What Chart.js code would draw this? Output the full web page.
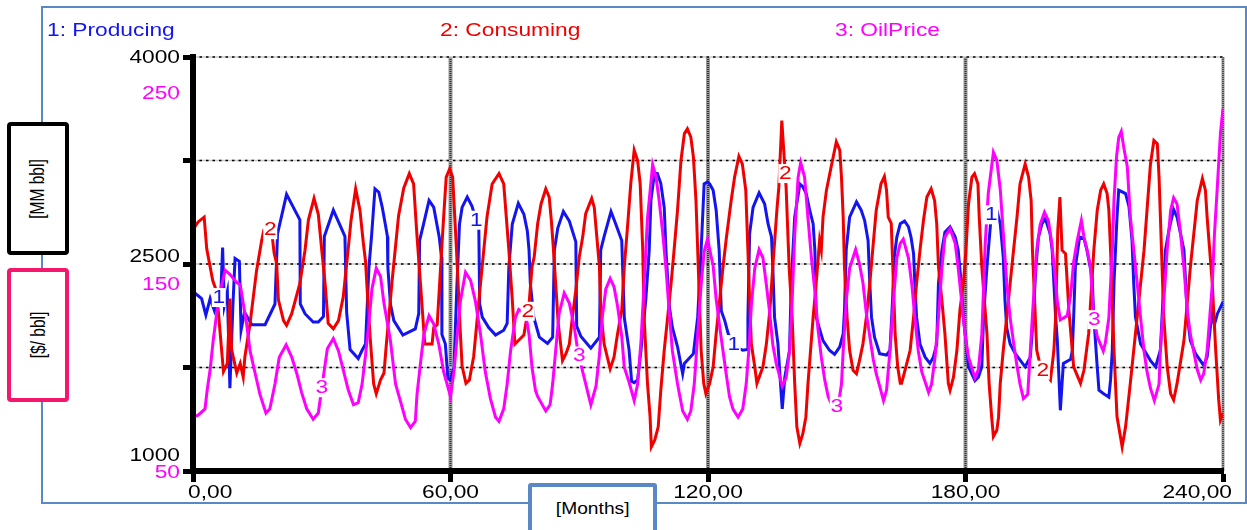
<!DOCTYPE html>
<html>
<head>
<meta charset="utf-8">
<title>Producing / Consuming / OilPrice</title>
<script src="https://cdn.jsdelivr.net/npm/chart.js@4.4.1/dist/chart.umd.min.js"></script>
<style>
  html, body { margin: 0; padding: 0; background: #fff; }
  body { position: relative; width: 1247px; height: 530px; overflow: hidden; }
  .frame { position: absolute; left: 41px; top: 6px; width: 1206px; height: 498px; border: 2px solid #5a88c6; box-sizing: border-box; }
  #myChart { position: absolute; left: 0; top: 0; }
  .unit { position: absolute; box-sizing: border-box; background: #fff; border-radius: 4px;
          display: flex; align-items: center; justify-content: center;
          font: 15.5px "Liberation Sans", Arial, sans-serif; color: #000; }
  .unit span { display: block; white-space: nowrap; transform: scaleX(1.35) rotate(-90deg); }
  #mmBox { left: 7px; top: 122px; width: 62px; height: 133px; border: 4.5px solid #000; }
  #priceBox { left: 7px; top: 268px; width: 62px; height: 134px; border: 4.5px solid #f5176b; }
  #monthsBox { left: 528px; top: 483px; width: 129px; height: 70px; border: 4px solid #5a88c6; border-radius: 3px;
               display: block; text-align: center; padding-top: 12px; line-height: 20px; font-size: 16px; }
  #monthsBox span { display: inline-block; transform: scaleX(1.2); }
</style>
</head>
<body>
<div class="frame"></div>
<canvas id="myChart" width="1247" height="530"></canvas>
<div class="unit" id="mmBox"><span>[MM bbl]</span></div>
<div class="unit" id="priceBox"><span>[$/ bbl]</span></div>
<div class="unit" id="monthsBox"><span>[Months]</span></div>

<script>
// ---- data ----
const producingMonths = [
  0, 1.2, 2, 3, 4, 5, 6.5, 6.9, 7.3, 8,
  8.6, 9.3, 9.8, 10.8, 11.2, 12, 13.7, 16.8, 19.1, 19.7,
  21.8, 24.9, 25, 26.1, 28, 29.2, 30.4, 30.6, 32.7, 35.4,
  35.8, 36.6, 38.5, 39.4, 40.2, 41, 41.6, 42.4, 43.3, 44.1,
  44.8, 45.3, 45.4, 46, 46.8, 48.9, 51.8, 52.6, 52.8, 53.8,
  55, 56.1, 57.4, 57.9, 58, 58.8, 59.4, 60, 60.8, 61.5,
  62.1, 62.7, 63.9, 65, 66.6, 66.8, 67.4, 68.9, 70.5, 72.4,
  73.2, 73.6, 74.4, 75.8, 77.1, 77.9, 78.3, 78.6, 79.4, 80.7,
  82.6, 83.8, 84.2, 85, 86.3, 87.7, 89.2, 89.4, 90.4, 92.7,
  94.7, 95, 95.8, 97.4, 98.5, 99.9, 100.5, 101.6, 102.2, 102.8,
  103.6, 104.4, 105.5, 106.3, 106.7, 107.5, 108.2, 109, 109.8, 110.2,
  111, 111.7, 112.9, 114.1, 114.5, 116.6, 117.6, 118.4, 119.1, 119.9,
  120.4, 121.2, 121.9, 122.6, 123.1, 123.9, 124.7, 126.2, 128.1, 129.1,
  129.3, 129.7, 130.5, 131.9, 133.2, 134, 134.8, 135.1, 135.5, 136.3,
  136.9, 137.3, 137.9, 139, 139.4, 140.2, 141.4, 142.1, 142.9, 143.7,
  144.5, 144.9, 145.2, 146.8, 148.3, 149.5, 150.7, 151.5, 151.8, 152.2,
  153, 154.6, 155.7, 156.5, 157.3, 157.7, 158.1, 158.8, 160, 161.6,
  162.4, 163, 163.4, 164, 164.8, 165.8, 166.7, 167.3, 167.9, 168.2,
  168.6, 169.4, 170.6, 171.7, 172.5, 173.3, 173.7, 174.5, 175.2, 176.4,
  177.6, 178.3, 179, 179.5, 180.1, 180.7, 182.2, 183, 183.8, 184.2,
  185, 186.1, 187.3, 188.1, 188.8, 189.2, 189.6, 190.4, 191.6, 193.9,
  195.1, 195.8, 196.4, 197, 197.8, 198.6, 199.7, 200.2, 200.6, 201,
  201.4, 202.1, 202.8, 204.5, 204.9, 205.2, 205.6, 206.6, 207.6, 208.3,
  209.5, 209.9, 210.7, 211.1, 212.2, 213.4, 213.8, 214.2, 214.6, 215.3,
  215.7, 217.3, 218.1, 218.8, 219.2, 219.6, 220.8, 223.1, 224.3, 225.4,
  225.8, 226.6, 227.4, 228.5, 229.3, 230.9, 231.3, 231.7, 232.4, 233.6,
  235.5, 236.3, 236.9, 237.5, 238, 238.7, 240
];
const producingValues = [
  2300, 2270, 2250, 2130, 2250, 2160, 2300, 2620, 2200, 2300,
  1600, 2200, 2540, 2520, 2020, 2150, 2060, 2060, 2210, 2720,
  3005, 2820, 2210, 2140, 2080, 2080, 2120, 2700, 2890, 2700,
  2150, 1880, 1815, 1875, 1920, 2480, 2700, 3045, 3020, 2910,
  2790, 2700, 2480, 2210, 2090, 1985, 2030, 2140, 2670, 2800,
  2960, 2910, 2690, 2550, 1990, 1920, 1670, 1660, 1750, 2350,
  2790, 2910, 2985, 2920, 2750, 2210, 2115, 2040, 1985, 2020,
  2070, 2480, 2790, 2940, 2860, 2740, 2600, 2360, 2115, 1970,
  1925, 1970, 2600, 2760, 2880, 2810, 2660, 2050, 1975, 1890,
  1970, 2600, 2700, 2880, 2790, 2670, 2110, 1880, 1650, 1640,
  1660, 1880, 2240, 2600, 2960, 3155, 3155, 3085, 2910, 2600,
  2190, 2040, 1900, 1705, 1780, 1850, 2115, 2600, 3080, 3095,
  3080, 3035, 2890, 2600, 2160, 2090, 1995, 1900, 1875, 1880,
  2115, 2720, 2910, 3015, 2935, 2790, 2695, 2480, 2115, 1920,
  1630, 1450, 1680, 1875, 2360, 2840, 3080, 3060, 3010, 2890,
  2790, 2600, 2115, 1945, 1875, 1845, 1900, 1995, 2160, 2600,
  2840, 2950, 2890, 2815, 2670, 2360, 2115, 1970, 1850, 1840,
  1875, 2235, 2550, 2695, 2792, 2812, 2770, 2695, 2575, 2360,
  2115, 1920, 1825, 1780, 1825, 1920, 2360, 2600, 2730, 2770,
  2695, 2600, 2360, 2115, 1945, 1755, 1655, 1680, 1755, 2115,
  2480, 2890, 2890, 2790, 2550, 2235, 2040, 1920, 1850, 1755,
  1825, 2115, 2480, 2695, 2790, 2830, 2720, 2600, 2360, 2115,
  1945, 1440, 1780, 1810, 1875, 2115, 2480, 2695, 2685, 2600,
  2405, 2115, 1750, 1585, 1560, 1535, 1660, 1875, 2360, 2840,
  3035, 3010, 2915, 2670, 2360, 2115, 1920, 1800, 1755, 1875,
  2115, 2600, 2745, 2895, 2840, 2600, 2360, 2115, 1945, 1850,
  1765, 1825, 1995, 2160, 2060, 2140, 2225
];

const consumingMonths = [
  0, 1.2, 2.6, 3.2, 4.6, 5.5, 7.1, 8, 8.6, 9,
  10.2, 11, 11.7, 12.1, 13.3, 14.8, 16, 16.5, 18.3, 18.9,
  19.5, 19.9, 21.1, 21.8, 23, 24.9, 26.1, 26.9, 28.2, 29.2,
  30, 30.8, 31.5, 32.7, 33.9, 35, 36.2, 36.8, 37.9, 38.9,
  39.7, 40.2, 40.8, 41.3, 42.1, 42.7, 43.7, 44.5, 45, 46.4,
  47.9, 49.1, 50.4, 51.4, 52.2, 53, 54, 55.7, 56.1, 56.9,
  57.7, 58.4, 59, 59.8, 60.5, 61.4, 62.3, 62.7, 63.6, 64.4,
  65.4, 67, 68.5, 69.7, 71.3, 72.4, 73.6, 74.4, 75, 76.3,
  77.1, 78.3, 79, 79.5, 80.3, 81.1, 82.2, 83, 83.5, 84,
  84.6, 85.1, 86.1, 86.9, 87.7, 88.4, 89.2, 90, 90.8, 91.5,
  92.9, 93.5, 94.1, 94.7, 95, 95.8, 97.2, 98.1, 98.9, 99.9,
  100.5, 101.3, 102, 102.8, 103.6, 104.2, 104.8, 105.1, 105.9, 106.5,
  106.8, 107.6, 108.4, 109, 109.8, 110.6, 111.4, 112.1, 112.9, 113.7,
  114.5, 115.2, 116, 116.6, 117.2, 117.6, 118, 118.4, 119, 119.5,
  120.4, 121.2, 121.9, 122.7, 123.5, 124.3, 125.4, 126.2, 127.2, 128,
  128.8, 129.3, 129.7, 130.1, 130.9, 131.4, 132.8, 133.6, 134.4, 135.1,
  136.1, 136.5, 137.2, 137.6, 138.2, 138.9, 139.6, 140.2, 140.7, 141.4,
  142.1, 142.8, 143.3, 144.5, 145.2, 146, 146.4, 146.8, 147.6, 148.7,
  149.9, 150.7, 151.1, 151.5, 151.8, 152.4, 153, 153.8, 154.6, 155.3,
  156.1, 156.9, 157.7, 158.5, 159.2, 160.3, 161.1, 161.6, 162, 162.7,
  163.2, 163.6, 164.2, 164.8, 165.1, 165.9, 167.1, 167.9, 168.6, 169.4,
  170.2, 171, 172, 172.8, 173.3, 173.7, 174.5, 175.2, 176, 176.4,
  177.2, 178, 178.7, 179.5, 180.1, 180.7, 181.5, 182.1, 182.9, 183.2,
  183.8, 184.4, 185, 185.5, 186.1, 186.5, 187.3, 187.7, 188.1, 188.8,
  189.6, 190.4, 191.2, 192, 192.7, 193.9, 194.7, 195.3, 195.6, 196.1,
  196.6, 197.6, 198.8, 199.8, 200.6, 201, 201.5, 202, 202.5, 203.3,
  204.1, 205.2, 206.8, 207.6, 208.7, 209.9, 210.7, 211.5, 212.2, 213,
  213.4, 213.8, 214.6, 215.3, 216.5, 217.3, 218.4, 220, 221.6, 223.1,
  223.9, 224.7, 225.1, 225.8, 226.2, 227, 227.8, 228.5, 229.3, 230.9,
  232.4, 234, 235.2, 235.9, 236.3, 237.5, 238.3, 239, 239.4, 240
];
const consumingValues = [
  2750, 2805, 2840, 2610, 2380, 2300, 1720, 1780, 2250, 1880,
  1710, 1780, 1680, 1830, 2070, 2450, 2670, 2745, 2745, 2580,
  2500, 2240, 2090, 2055, 2140, 2360, 2600, 2820, 2975, 2860,
  2600, 2350, 2070, 2030, 2090, 2260, 2620, 2810, 3045, 2890,
  2650, 2520, 2200, 1960, 1630, 1560, 1660, 1710, 1900, 2380,
  2850, 3050, 3155, 3080, 2700, 2360, 1920, 1920, 2040, 2060,
  2480, 2840, 3130, 3190, 3130, 2600, 2000, 1760, 1635, 1660,
  1830, 2360, 2840, 3080, 3155, 3080, 2600, 2240, 1920, 1960,
  1985, 2210, 2480, 2550, 2790, 2935, 3045, 2985, 2815, 2600,
  2310, 2070, 1800, 1850, 1920, 2115, 2310, 2550, 2695, 2865,
  2975, 2910, 2695, 2480, 2165, 1920, 1740, 1825, 1990, 2165,
  2480, 2790, 3080, 3325, 3250, 3080, 2600, 2120, 1635, 1395,
  1175, 1225, 1320, 1585, 1875, 2115, 2360, 2600, 2890, 3250,
  3445, 3480, 3420, 3275, 2960, 2600, 2235, 1875, 1635, 1560,
  1635, 1755, 1995, 2235, 2480, 2695, 2960, 3130, 3280, 3225,
  3035, 2600, 2235, 1920, 1755, 1635, 1755, 1920, 2160, 2480,
  2910, 3055, 3540, 3345, 3055, 2480, 2115, 1635, 1320, 1200,
  1270, 1390, 1635, 2115, 2360, 2670, 2600, 2840, 3035, 3205,
  3385, 3325, 3130, 2840, 2480, 2115, 1875, 1730, 1705, 1800,
  1920, 2115, 2360, 2645, 2890, 3080, 3135, 3035, 2840, 2795,
  2360, 1995, 1755, 1635, 1635, 1730, 1875, 2115, 2360, 2600,
  2815, 2985, 3045, 2960, 2790, 2480, 2235, 1995, 1635, 1585,
  1680, 1875, 2165, 2360, 2600, 2935, 3130, 3155, 3080, 2840,
  2480, 2235, 1995, 1635, 1390, 1250, 1295, 1390, 1635, 1875,
  2115, 2360, 2600, 2840, 3080, 3225, 3130, 2960, 2600, 2235,
  1875, 1740, 1700, 1660, 1875, 2115, 2740, 2985, 2600, 2575,
  2160, 1755, 1635, 1730, 1995, 2600, 2890, 3035, 3080, 3010,
  2890, 2600, 1875, 1395, 1175, 1320, 1635, 2115, 2600, 3225,
  3395, 3370, 3130, 2480, 2115, 1755, 1560, 1515, 1635, 1945,
  2480, 2960, 3120, 3035, 2840, 2360, 1875, 1515, 1370, 1420
];

const priceMonths = [
  0, 1.2, 2.8, 3.3, 4, 4.7, 5.7, 6.7, 7.5, 8.6,
  10.2, 11, 11.7, 12.5, 13.3, 14.5, 15.6, 17, 17.9, 19.1,
  20.1, 21.7, 23, 24.2, 25.3, 26.5, 28, 29.2, 30, 31.3,
  32.7, 33.9, 35, 36.2, 37.4, 38.5, 39.4, 40.2, 41, 41.7,
  42.7, 43.7, 44.5, 46, 47.2, 48.3, 49.5, 50.7, 51.8, 52.2,
  53, 53.8, 55, 56.1, 57.3, 58.4, 60, 60.8, 61.5, 62.3,
  63.5, 64.7, 65.8, 67, 68.1, 69.3, 70.5, 71.3, 72.4, 73.2,
  74, 75.1, 75.9, 77.5, 78.3, 79, 79.8, 80.3, 82.2, 83.2,
  83.8, 84.5, 85.3, 86.5, 87.7, 88.8, 89.6, 90.8, 92.7, 93.9,
  94.7, 95.4, 96.2, 97.2, 98.1, 98.9, 99.9, 100.5, 101.6, 102.8,
  103.6, 104.4, 105.1, 105.9, 107.1, 107.9, 108.6, 109.4, 110.2, 111,
  111.7, 112.9, 114.1, 115.2, 116, 116.8, 117.6, 118.4, 119.1, 119.9,
  120.4, 121.2, 121.9, 122.7, 123.5, 124.3, 125, 125.8, 127, 128.1,
  128.9, 129.5, 130.1, 130.9, 131.9, 132.8, 133.6, 134.4, 135.1, 135.9,
  137.3, 138.2, 139, 139.6, 140.2, 141, 141.6, 142.5, 143.3, 144.1,
  144.9, 145.6, 146.4, 147.2, 148, 149, 150.3, 151.1, 151.5, 152.2,
  153, 154.4, 155.3, 156.1, 156.9, 157.7, 158.5, 159.2, 160, 160.9,
  161.6, 162.4, 163.2, 164, 164.8, 165.5, 166.7, 167.5, 168.2, 169,
  169.8, 171.4, 172.1, 172.9, 173.7, 174.5, 175.2, 176.4, 177.6, 178.3,
  179.1, 179.9, 180.7, 182.2, 183, 183.8, 184.6, 185.3, 186.5, 187.3,
  188.1, 188.8, 189.6, 190.4, 191.2, 191.9, 192.7, 193.5, 194.5, 195.1,
  195.8, 196.6, 197.4, 198.4, 199.3, 200.1, 200.7, 201.4, 202.1, 203.7,
  204.5, 205.2, 206, 207, 207.6, 208.3, 209.1, 209.9, 210.7, 212.1,
  212.6, 213.4, 213.8, 214.2, 214.6, 215.2, 215.7, 216.3, 216.9, 217.7,
  218.4, 219.2, 220, 220.8, 221.6, 222.3, 223.1, 224, 225.1, 225.4,
  226.2, 227, 227.8, 228.5, 229.3, 230.1, 230.9, 231.7, 232.4, 234,
  234.8, 235.5, 236.3, 236.9, 237.5, 238, 238.7, 239.4, 240
];
const priceValues = [
  76, 77, 80, 89, 99, 113, 129, 140, 147, 145,
  141, 140, 131, 121, 108, 97, 87, 78, 80, 92,
  105, 111, 105, 97, 88, 80, 75, 78, 90, 109,
  114, 108, 99, 89, 82, 83, 92, 106, 122, 138,
  148, 144, 131, 113, 92, 84, 75, 71, 74, 87,
  102, 116, 125, 121, 111, 98, 86, 98, 114, 132,
  146, 142, 132, 116, 98, 85, 76, 74, 80, 92,
  108, 124, 128, 126, 116, 100, 89, 86, 79, 82,
  92, 108, 126, 136, 131, 120, 109, 98, 82, 91,
  106, 125, 138, 143, 139, 130, 115, 100, 93, 84,
  92, 113, 140, 172, 198, 192, 181, 166, 148, 126,
  108, 92, 79, 75, 79, 92, 116, 140, 156, 162,
  157, 149, 133, 120, 108, 96, 86, 80, 76, 80,
  92, 108, 130, 148, 157, 153, 140, 126, 111, 102,
  91, 95, 108, 132, 164, 192, 199, 192, 172, 153,
  137, 119, 105, 94, 86, 81, 81, 92, 108, 132,
  148, 157, 150, 141, 126, 115, 104, 97, 91, 84,
  89, 108, 132, 153, 160, 162, 153, 140, 124, 108,
  98, 88, 92, 105, 124, 148, 163, 167, 160, 148,
  132, 116, 105, 95, 99, 116, 160, 184, 204, 200,
  186, 165, 141, 124, 112, 102, 92, 85, 87, 108,
  132, 157, 169, 175, 171, 160, 148, 132, 123, 125,
  135, 151, 161, 171, 163, 157, 149, 124, 115, 108,
  112, 124, 140, 156, 181, 202, 211, 214, 206, 197,
  173, 157, 141, 124, 108, 98, 90, 84, 92, 108,
  132, 157, 176, 182, 179, 165, 148, 127, 116, 99,
  94, 97, 108, 124, 140, 164, 188, 213, 225
];

const seriesNames  = ['1: Producing', '2: Consuming', '3: OilPrice'];
const monthTicks   = [0, 60, 120, 180, 240];
const volumeTicks  = [1000, 2500, 4000];   // MM bbl
const priceTicks   = [50, 150, 250];       // $/bbl
const volumeGrid   = [1750, 2500, 3250, 4000];

// ---- styling ----
const seriesColors  = ['#1414f0', '#f00000', '#ff00ff'];
const legendLeft    = [47, 440, 835];
const labelMonths   = [[6, 66, 126, 186], [18, 78, 138, 198], [30, 90, 150, 210]];
const volumeShift   = [-14.5, -6.5, 1.5];
const priceShift    = [2.5, 21, 37.5];
const TEXT_FONT     = '17.5px "Liberation Sans", Arial, sans-serif';
const TEXT_STRETCH  = 1.3;

const toPoints = (months, values) => months.map((m, i) => ({ x: m, y: values[i] }));

function valueAt(points, m) {
  for (let i = 0; i < points.length - 1; i++) {
    const a = points[i], b = points[i + 1];
    if (m >= a.x && m <= b.x) {
      return a.y + (b.y - a.y) * (m - a.x) / (b.x - a.x);
    }
  }
  return points[points.length - 1].y;
}

function drawText(ctx, text, x, y, align, baseline, color) {
  ctx.save();
  ctx.translate(x, y);
  ctx.scale(TEXT_STRETCH, 1);
  ctx.font = TEXT_FONT;
  ctx.textAlign = align;
  ctx.textBaseline = baseline;
  ctx.fillStyle = color;
  ctx.fillText(text, 0, 0);
  ctx.restore();
}

const stellaLook = {
  id: 'stellaLook',
  beforeDatasetsDraw(chart) {
    const { ctx, chartArea: a, scales: { x, y } } = chart;
    ctx.save();
    // vertical grid: thick grey at 60/120/180, thinner at 240
    monthTicks.slice(1).forEach((m, i, arr) => {
      const px = x.getPixelForValue(m);
      const last = i === arr.length - 1;
      ctx.setLineDash([]);
      ctx.strokeStyle = '#9a9a9a';
      ctx.lineWidth = last ? 3 : 4;
      ctx.beginPath(); ctx.moveTo(px, a.top); ctx.lineTo(px, a.bottom); ctx.stroke();
      ctx.setLineDash([1, 1]);
      ctx.strokeStyle = '#333';
      ctx.lineWidth = last ? 1.5 : 2;
      ctx.beginPath(); ctx.moveTo(px, a.top); ctx.lineTo(px, a.bottom); ctx.stroke();
    });
    // horizontal dotted grid
    volumeGrid.forEach(v => {
      const py = y.getPixelForValue(v);
      ctx.setLineDash([]);
      ctx.strokeStyle = '#c8c8c8';
      ctx.lineWidth = 1.5;
      ctx.beginPath(); ctx.moveTo(a.left, py); ctx.lineTo(a.right, py); ctx.stroke();
      ctx.setLineDash([2.5, 4]);
      ctx.strokeStyle = '#000';
      ctx.beginPath(); ctx.moveTo(a.left, py); ctx.lineTo(a.right, py); ctx.stroke();
    });
    ctx.restore();
  },
  afterDatasetsDraw(chart) {
    const { ctx, scales } = chart;
    chart.data.datasets.forEach((ds, i) => {
      const yScale = scales[ds.yAxisID];
      labelMonths[i].forEach(m => {
        const px = scales.x.getPixelForValue(m);
        const py = yScale.getPixelForValue(valueAt(ds.data, m));
        ctx.fillStyle = '#fff';
        ctx.fillRect(px - 7, py - 10, 14, 19);
        drawText(ctx, String(i + 1), px, py, 'center', 'middle', ds.borderColor);
      });
    });
  },
  afterDraw(chart) {
    const { ctx, scales: { x, y, y1 } } = chart;
    // series titles
    chart.data.datasets.forEach((ds, i) => {
      drawText(ctx, ds.label, legendLeft[i], 36, 'left', 'alphabetic', ds.borderColor);
    });
    // stacked value labels on the left
    volumeTicks.forEach((v, i) => {
      drawText(ctx, String(v), 180, y.getPixelForValue(v) + volumeShift[i], 'right', 'middle', '#000');
    });
    priceTicks.forEach((v, i) => {
      drawText(ctx, String(v), 180, y1.getPixelForValue(v) + priceShift[i], 'right', 'middle', seriesColors[2]);
    });
    // month labels
    monthTicks.forEach((m, i) => {
      const px = x.getPixelForValue(m);
      const txt = m.toFixed(2).replace('.', ',');
      if (i === 0) drawText(ctx, txt, px - 5, 493, 'left', 'middle', '#000');
      else if (i === monthTicks.length - 1) drawText(ctx, txt, px + 9, 493, 'right', 'middle', '#000');
      else drawText(ctx, txt, px, 493, 'center', 'middle', '#000');
    });
  }
};

const axisGrid = { drawOnChartArea: false, drawTicks: true, tickLength: 10, tickWidth: 5, tickColor: '#000' };
const axisBorder = { display: true, color: '#000', width: 6, z: 1 };

new Chart(document.getElementById('myChart'), {
  type: 'line',
  data: {
    datasets: [
      { label: seriesNames[0], data: toPoints(producingMonths, producingValues), borderColor: seriesColors[0], yAxisID: 'y',  order: 3 },
      { label: seriesNames[1], data: toPoints(consumingMonths, consumingValues), borderColor: seriesColors[1], yAxisID: 'y',  order: 2 },
      { label: seriesNames[2], data: toPoints(priceMonths, priceValues),         borderColor: seriesColors[2], yAxisID: 'y1', order: 1 }
    ]
  },
  options: {
    responsive: false,
    animation: false,
    devicePixelRatio: 1,
    layout: { padding: { left: 0, top: 57, right: 24, bottom: 0 } },
    elements: {
      line: { borderWidth: 3, tension: 0, fill: false },
      point: { radius: 0 }
    },
    plugins: { legend: { display: false }, tooltip: { enabled: false } },
    scales: {
      x: {
        type: 'linear', min: 0, max: 240,
        ticks: { stepSize: 60, display: false },
        grid: { ...axisGrid, tickLength: 11 },
        border: axisBorder,
        afterFit(scale) { scale.height = 59; }
      },
      y: {
        position: 'left', min: 1000, max: 4000,
        ticks: { stepSize: 750, display: false },
        grid: axisGrid,
        border: axisBorder,
        afterFit(scale) { scale.width = 193; }
      },
      y1: { display: false, min: 50, max: 250 }
    }
  },
  plugins: [stellaLook]
});
</script>
</body>
</html>
